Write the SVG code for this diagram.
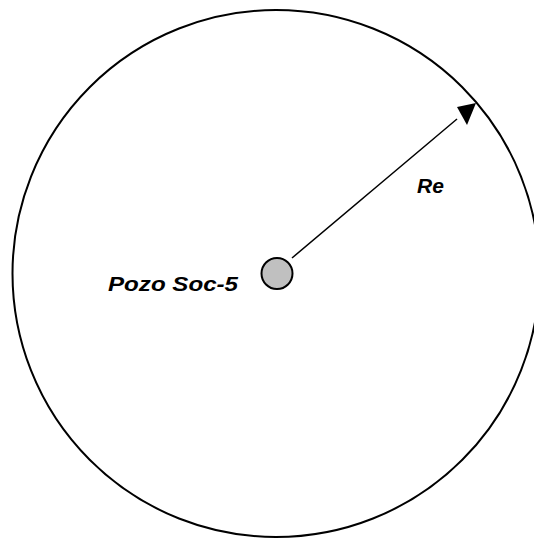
<svg xmlns="http://www.w3.org/2000/svg" width="534" height="539" viewBox="0 0 534 539">
<style>
.lbl{font-family:"Liberation Sans",Arial,sans-serif;font-weight:bold;font-style:italic;font-size:21px;fill:#000}
</style>
<defs>
<marker id="ah" viewBox="0 0 10 10" refX="10" refY="5" markerWidth="10" markerHeight="10" markerUnits="userSpaceOnUse" orient="auto">
<path d="M0,0 L10,5 L0,10 z" fill="#000"/>
</marker>
</defs>
<rect width="534" height="539" fill="#fff"/>
<g id="boundary">
<circle cx="276" cy="273.5" r="263.5" fill="none" stroke="#000" stroke-width="2"/>
</g>
<g id="well">
<circle cx="277" cy="273.5" r="15.5" fill="#c0c0c0" stroke="#000" stroke-width="2"/>
<text class="lbl" x="108" y="291" textLength="130" lengthAdjust="spacingAndGlyphs">Pozo Soc-5</text>
</g>
<g id="connectors">
<line x1="292" y1="258" x2="457" y2="119" stroke="#000" stroke-width="1.5"/>
<path d="M476,103 L457,107 L467,125 z" fill="#000"/>
<text class="lbl" x="417" y="193">Re</text>
</g>
</svg>
